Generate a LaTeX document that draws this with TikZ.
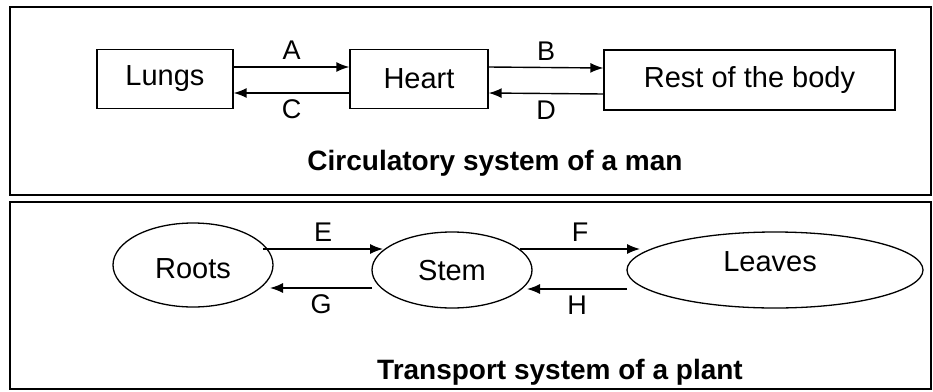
\documentclass[tikz,border=0pt]{standalone}
\usepackage{fontspec}
\setmainfont{Liberation Sans}
\usetikzlibrary{arrows.meta,shapes.geometric}
\begin{document}
\begin{tikzpicture}[x=1pt,y=-1pt,
  frame/.style={draw,line width=1.8pt},
  organ/.style={draw,line width=1.3pt,rectangle,inner sep=0pt,font=\fontsize{29}{32}\selectfont},
  part/.style={draw,line width=1.3pt,ellipse,inner sep=0pt},
  label/.style={font=\fontsize{29}{32}\selectfont},
  flow/.style={line width=1.4pt,-{Latex[length=13pt,width=10pt]}},
  tag/.style={font=\fontsize{27}{30}\selectfont},
  caption/.style={font=\fontsize{28}{31}\selectfont\bfseries}]
\useasboundingbox (0,0) rectangle (933,391);
% panel frames
\draw[frame] (10,7) rectangle (931,195);
\draw[frame] (10,202) rectangle (931,389);
% circulatory system
\node[organ,minimum width=136pt,minimum height=59pt] (lungs) at (165,79) {Lungs};
\node[organ,minimum width=138pt,minimum height=59pt] (heart) at (419,79) {Heart};
\node[organ,minimum width=291pt,minimum height=60pt] (body) at (749.5,80) {Rest of the body};
\draw[flow] ([yshift=12pt]lungs.east) -- ([yshift=12pt]heart.west) node[tag,midway,above=3pt] {A};
\draw[flow] ([yshift=-14pt]heart.west) -- ([yshift=-14pt]lungs.east) node[tag,midway,below=3pt] {C};
\draw[flow] ([yshift=12pt]heart.east) -- ([yshift=12pt]body.west) node[tag,midway,above=3pt] {B};
\draw[flow] ([yshift=-14pt]body.west) -- ([yshift=-14pt]heart.east) node[tag,midway,below=3pt] {D};
\node[caption] (t1) at (495,163) {Circulatory system of a man};
% transport system
\node[part,minimum width=160pt,minimum height=84pt] (roots) at (193,265) {};
\node[part,minimum width=160pt,minimum height=76pt] (stem) at (452,270) {};
\node[part,minimum width=296pt,minimum height=76pt] (leaves) at (775,270) {};
\node[label] (rootslbl) at (193,269) {Roots};
\node[label] (stemlbl) at (452,271) {Stem};
\node[label] (leaveslbl) at (770,262) {Leaves};
\coordinate (e1) at (263,249); \coordinate (e2) at (383,249);
\coordinate (g1) at (372,288); \coordinate (g2) at (270,288);
\coordinate (f1) at (520,249); \coordinate (f2) at (640,249);
\coordinate (h1) at (627,289); \coordinate (h2) at (527,289);
\draw[flow] (e1) -- (e2) node[tag,midway,above=3pt] {E};
\draw[flow] (g1) -- (g2) node[tag,midway,below=3pt] {G};
\draw[flow] (f1) -- (f2) node[tag,midway,above=3pt] {F};
\draw[flow] (h1) -- (h2) node[tag,midway,below=3pt] {H};
\node[caption] (t2) at (560,372) {Transport system of a plant};
\end{tikzpicture}
\end{document}
